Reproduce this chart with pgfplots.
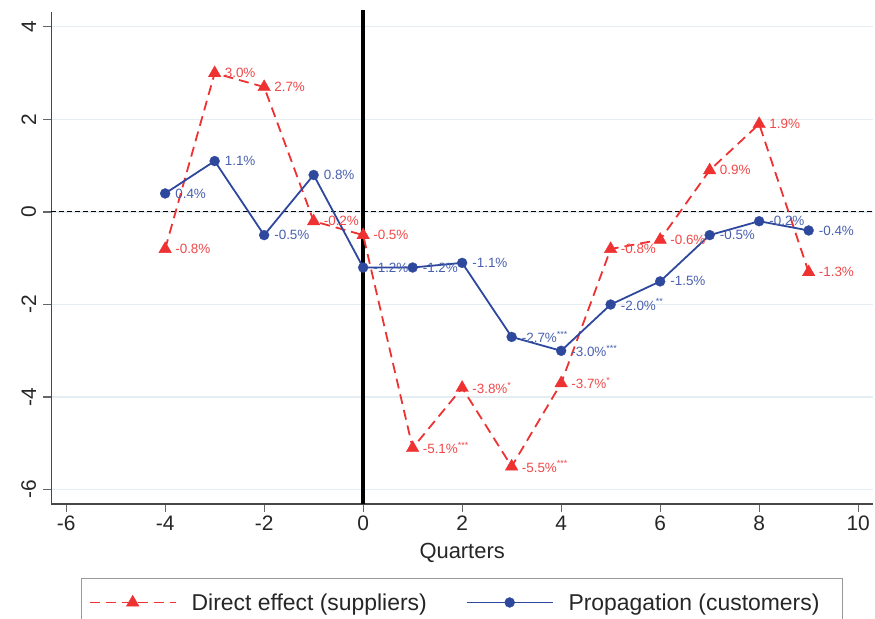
\documentclass[border=0pt]{standalone}
\usepackage{fontspec}
\setmainfont{Liberation Sans}
\usepackage{pgfplots}
\pgfplotsset{compat=1.18}
\definecolor{redL}{RGB}{238,50,50}
\definecolor{redT}{RGB}{240,72,72}
\definecolor{blueL}{RGB}{46,72,158}
\definecolor{blueT}{RGB}{72,96,174}
\definecolor{gridc}{RGB}{228,238,242}
\newcommand{\stars}[1]{\textsuperscript{\fontsize{9}{10}\selectfont #1}}
\begin{document}
\begin{tikzpicture}
\begin{axis}[
  at={(51.3bp,115bp)}, anchor=south west,
  scale only axis, width=821.7bp, height=491.5bp,
  xmin=-6.3, xmax=10.3, ymin=-6.31, ymax=4.31,
  axis x line*=bottom, axis y line*=left,
  axis line style={draw=black!72, line width=1.3bp, -},
  xtick={-6,-4,...,10}, ytick={-6,-4,...,4},
  tick align=outside, major tick length=8bp,
  tick style={draw=black!60, line width=1.3bp},
  ymajorgrids, grid style={draw=gridc, line width=1.3bp},
  /pgf/number format/assume math mode=true,
  ticklabel style={font=\fontsize{21}{25}\selectfont, text=black!85},
  yticklabel style={rotate=90, anchor=south, inner sep=7bp},
  xticklabel style={inner sep=4bp},
  xlabel={Quarters},
  xlabel style={at={(axis description cs:0.5,-0.1)}, anchor=center, font=\fontsize{22}{25}\selectfont, text=black!85},
  clip=false,
  legend columns=2,
  legend cell align=left,
  legend image code/.code={\draw[mark repeat=2, mark phase=2, #1] plot coordinates {(0bp,0bp) (43bp,0bp) (86bp,0bp)};},
  legend style={at={(0.5,-0.1506)}, anchor=north, draw=black!40, line width=0.8bp,
    inner xsep=7bp, inner ysep=13bp, font=\fontsize{23}{27}\selectfont,
    nodes={inner sep=2bp, text=black!85},
    /tikz/every odd column/.append style={column sep=13bp},
    /tikz/every even column/.append style={column sep=37bp}},
]
\addplot[forget plot, black, line width=1bp, dash pattern=on 5bp off 3bp] coordinates {(-6.3,0) (10.3,0)};
\addplot[forget plot, black, line width=4.5bp] coordinates {(0,-6.31) (0,4.36)};

\addplot[redL, line width=1.8bp, dash pattern=on 10bp off 6bp,
  mark=triangle*, mark size=7.3bp, mark options={solid, line width=0.3bp},
  point meta=explicit symbolic, nodes near coords={\pgfplotspointmeta},
  nodes near coords align={anchor=west},
  every node near coord/.append style={text=redT, inner sep=0pt, xshift=10bp, font=\fontsize{13.5}{16}\selectfont}]
coordinates {
(-4,-0.8) [-0.8\%]
(-3,3.0) [3.0\%]
(-2,2.7) [2.7\%]
(-1,-0.2) [-0.2\%]
(0,-0.5) [-0.5\%]
(1,-5.1) [-5.1\%\stars{***}]
(2,-3.8) [-3.8\%\stars{*}]
(3,-5.5) [-5.5\%\stars{***}]
(4,-3.7) [-3.7\%\stars{*}]
(5,-0.8) [-0.8\%]
(6,-0.6) [-0.6\%]
(7,0.9) [0.9\%]
(8,1.9) [1.9\%]
(9,-1.3) [-1.3\%]
};
\addlegendentry{Direct effect (suppliers)}

\addplot[blueL, line width=1.8bp,
  mark=*, mark size=5bp, mark options={solid, line width=0.3bp},
  point meta=explicit symbolic, nodes near coords={\pgfplotspointmeta},
  nodes near coords align={anchor=west},
  every node near coord/.append style={text=blueT, inner sep=0pt, xshift=10bp, font=\fontsize{13.5}{16}\selectfont}]
coordinates {
(-4,0.4) [0.4\%]
(-3,1.1) [1.1\%]
(-2,-0.5) [-0.5\%]
(-1,0.8) [0.8\%]
(0,-1.2) [-1.2\%]
(1,-1.2) [-1.2\%]
(2,-1.1) [-1.1\%]
(3,-2.7) [-2.7\%\stars{***}]
(4,-3.0) [-3.0\%\stars{***}]
(5,-2.0) [-2.0\%\stars{**}]
(6,-1.5) [-1.5\%]
(7,-0.5) [-0.5\%]
(8,-0.2) [-0.2\%]
(9,-0.4) [-0.4\%]
};
\addlegendentry{Propagation (customers)\hspace*{14bp}}
\end{axis}
\pgfresetboundingbox
\useasboundingbox (0,0) rectangle (875bp,619bp);
\end{tikzpicture}
\end{document}
